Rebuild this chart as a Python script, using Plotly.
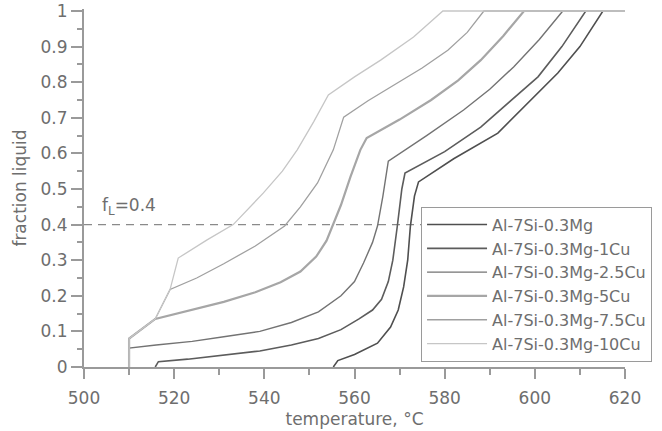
import plotly.graph_objects as go

# ---- data ----
names = ["Al-7Si-0.3Mg", "Al-7Si-0.3Mg-1Cu", "Al-7Si-0.3Mg-2.5Cu",
         "Al-7Si-0.3Mg-5Cu", "Al-7Si-0.3Mg-7.5Cu", "Al-7Si-0.3Mg-10Cu"]

t_0cu = [555.3, 556.3, 560, 565.1, 568, 569.7, 570.9, 571.8, 572.4, 573.3, 574.2,
         582, 591.8, 598, 605.1, 610, 615.1, 620]
f_0cu = [0, 0.018, 0.035, 0.067, 0.112, 0.16, 0.225, 0.3, 0.396, 0.48, 0.52,
         0.585, 0.657, 0.735, 0.826, 0.9, 1.0, 1.0]

t_1cu = [515.8, 516.5, 523, 531, 539, 546, 552, 557, 561, 564, 566, 567.5, 568.5,
         569.5, 570.5, 571.2, 580, 588, 594, 600.7, 606, 611.3, 620]
f_1cu = [0, 0.015, 0.022, 0.033, 0.045, 0.062, 0.08, 0.105, 0.135, 0.16, 0.19, 0.24, 0.3,
         0.396, 0.5, 0.545, 0.605, 0.674, 0.74, 0.815, 0.9, 1.0, 1.0]

t_25cu = [510, 510, 516, 524, 531, 539, 546, 552, 557, 560, 562, 564, 565.1, 566.3,
          567.5, 576, 584.2, 590, 595.3, 601, 606.2, 620]
f_25cu = [0, 0.053, 0.062, 0.072, 0.085, 0.1, 0.125, 0.155, 0.2, 0.24, 0.292, 0.35, 0.396,
          0.48, 0.578, 0.65, 0.722, 0.78, 0.843, 0.92, 1.0, 1.0]

t_5cu = [510, 510, 515.8, 523, 531, 538, 543.6, 548, 551.5, 553.8, 555.1, 557, 559.1,
         561.3, 562.7, 570, 577, 583, 588, 593, 597.6, 620]
f_5cu = [0, 0.08, 0.135, 0.158, 0.183, 0.21, 0.238, 0.268, 0.31, 0.355, 0.396, 0.455, 0.534,
         0.61, 0.643, 0.695, 0.75, 0.805, 0.862, 0.93, 1.0, 1.0]

t_75cu = [510, 510, 515.8, 519.1, 525, 531, 538, 544.5, 548, 551.8, 555.3, 557.6,
          563, 569.6, 575, 580.7, 585, 588.7, 620]
f_75cu = [0, 0.08, 0.135, 0.218, 0.25, 0.29, 0.34, 0.396, 0.45, 0.517, 0.61, 0.702,
          0.748, 0.798, 0.84, 0.89, 0.94, 1.0, 1.0]

t_10cu = [510, 510, 515.8, 519.1, 520.9, 527.3, 533.1, 539.8, 544, 547.3, 551, 554.2,
          560, 565.8, 573.1, 579.6, 620]
f_10cu = [0, 0.08, 0.135, 0.218, 0.306, 0.357, 0.4, 0.489, 0.55, 0.61, 0.69, 0.764,
          0.815, 0.862, 0.927, 1.0, 1.0]

temps = [t_0cu, t_1cu, t_25cu, t_5cu, t_75cu, t_10cu]
fracs = [f_0cu, f_1cu, f_25cu, f_5cu, f_75cu, f_10cu]

x_ticks = [500, 520, 540, 560, 580, 600, 620]
y_ticks = [0, 0.1, 0.2, 0.3, 0.4, 0.5, 0.6, 0.7, 0.8, 0.9, 1]
fl_level = 0.4

# ---- styles ----
colors = ["#4f4f4f", "#5c5c5c", "#737373", "#a6a6a6", "#a0a0a0", "#c6c6c6"]
widths = [1.6, 1.6, 1.4, 2.2, 1.3, 1.3]
FONT = "DejaVu Sans"
TXT = "#6e6e6e"
AX = "#9a9a9a"

fig = go.Figure()

# dashed f_L line
fig.add_trace(go.Scatter(x=[500, 620], y=[fl_level, fl_level], mode="lines",
                         line=dict(color="#8a8a8a", width=1.3, dash="8px,6px"),
                         showlegend=False, hoverinfo="skip"))

for n, t, f, c, w in zip(names, temps, fracs, colors, widths):
    fig.add_trace(go.Scatter(x=t, y=f, mode="lines", name=n,
                             line=dict(color=c, width=w)))

fig.add_annotation(x=503.5, y=0.45, xref="x", yref="y", text="f<sub>L</sub>=0.4",
                   showarrow=False, xanchor="left", yanchor="middle",
                   font=dict(family=FONT, size=17, color=TXT))

fig.update_layout(
    width=662, height=431,
    margin=dict(l=84, r=37, t=9, b=64, autoexpand=False),
    paper_bgcolor="white", plot_bgcolor="white",
    font=dict(family=FONT, size=17, color=TXT),
    legend=dict(x=0.623, y=0.015, xanchor="left", yanchor="bottom",
                bgcolor="white", bordercolor="#9a9a9a", borderwidth=1,
                font=dict(family=FONT, size=16, color=TXT),
                itemwidth=60, tracegroupgap=0),
    xaxis=dict(range=[500, 620], tickvals=x_ticks, ticks="outside", ticklen=10,
               tickcolor=AX, tickwidth=1.5, showline=True, linecolor=AX, linewidth=2,
               showgrid=False, zeroline=False, ticklabelstandoff=5,
               minor=dict(dtick=10, tick0=500, ticks="outside", ticklen=6,
                          tickcolor=AX, tickwidth=1.5, showgrid=False),
               title=dict(text="temperature, °C", standoff=6,
                          font=dict(family=FONT, size=17, color=TXT)),
               tickfont=dict(family=FONT, size=17, color=TXT)),
    yaxis=dict(range=[0, 358 / 356], tickvals=y_ticks,
               ticktext=[("%g" % v) for v in y_ticks],
               ticks="outside", ticklen=11, tickcolor=AX, tickwidth=1.5,
               showline=True, linecolor=AX, linewidth=2, showgrid=False, zeroline=False,
               minor=dict(dtick=0.05, tick0=0, ticks="outside", ticklen=5,
                          tickcolor=AX, tickwidth=1.5, showgrid=False),
               title=dict(text="fraction liquid", standoff=10,
                          font=dict(family=FONT, size=17, color=TXT)),
               tickfont=dict(family=FONT, size=17, color=TXT)),
)

fig.write_html("out.html")
